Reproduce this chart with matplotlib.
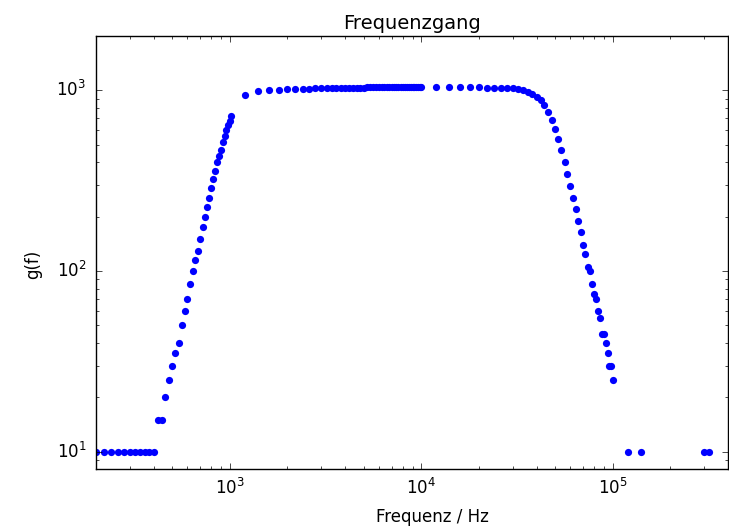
import matplotlib
matplotlib.use("Agg")
import matplotlib.pyplot as plt
import numpy as np

plt.style.use("classic")

# Frequencies (Hz)
freq_low = [200, 220, 240, 260, 280, 300, 320, 340, 360, 380, 400,
            420, 440, 460, 480, 500, 520, 540, 560, 580, 600, 620, 640,
            660, 680, 700, 720, 740, 760, 780, 800, 820, 840, 860, 880,
            900, 920, 940, 960, 980, 1000, 1020]
gain_low = [10, 10, 10, 10, 10, 10, 10, 10, 10, 10, 10,
            15, 15, 20, 25, 30, 35, 40, 50, 60, 70, 85, 100,
            115, 130, 150, 175, 200, 225, 255, 290, 325, 360, 400, 435,
            470, 520, 560, 600, 640, 680, 720]

freq_mid = [1200, 1400, 1600, 1800, 2000, 2200, 2400, 2600, 2800, 3000,
            3200, 3400, 3600, 3800, 4000, 4200, 4400, 4600, 4800, 5000,
            5200, 5400, 5600, 5800, 6000, 6200, 6400, 6600, 6800, 7000,
            7200, 7400, 7600, 7800, 8000, 8200, 8400, 8600, 8800, 9000,
            9200, 9400, 9600, 9800, 10000]
gain_mid = [940, 990, 1000, 1010, 1013, 1017, 1020, 1022, 1025, 1026,
            1027, 1028, 1030, 1030, 1032, 1033, 1034, 1035, 1036, 1037,
            1038, 1038, 1040, 1040, 1042, 1040, 1038, 1044, 1042, 1040,
            1043, 1040, 1045, 1042, 1040, 1044, 1042, 1040, 1043, 1042,
            1040, 1043, 1042, 1040, 1043]

freq_high = [12000, 14000, 16000, 18000, 20000, 22000, 24000, 26000, 28000,
             30000, 32000, 34000, 36000, 38000, 40000, 42000, 44000, 46000,
             48000, 50000, 52000, 54000, 56000, 58000, 60000, 62000, 64000,
             66000, 68000, 70000, 72000, 74000, 76000, 78000, 80000, 82000,
             84000, 86000, 88000, 90000, 92000, 94000, 96000, 98000, 100000,
             120000, 140000, 300000, 320000]
gain_high = [1040, 1040, 1040, 1040, 1038, 1035, 1030, 1035, 1030,
             1025, 1015, 1005, 985, 955, 925, 880, 825, 755,
             685, 610, 535, 465, 400, 345, 295, 255, 220,
             190, 165, 140, 125, 105, 100, 85, 75, 70,
             60, 55, 45, 45, 40, 35, 30, 30, 25,
             10, 10, 10, 10]

freq = freq_low + freq_mid + freq_high
gain = gain_low + gain_mid + gain_high

W, H = 729, 528
x0, x1, y0, y1 = 96, 728, 36, 469.3
fig = plt.figure(figsize=(W / 100, H / 100), dpi=100, facecolor="white")
ax = fig.add_axes([x0 / W, 1 - y1 / H, (x1 - x0) / W, (y1 - y0) / H])
ax.set_facecolor("white")
ax.plot(freq, gain, "o", color="b", markeredgecolor="b", markeredgewidth=0,
        markersize=5.2)
ax.set_xscale("log")
ax.set_yscale("log")
ax.set_xlim(200, 4e5)
ax.set_ylim(8, 2000)
ax.tick_params(axis="y", which="major", pad=7)
ax.tick_params(axis="x", which="major", pad=6)
ax.set_title("Frequenzgang", fontsize=14)
ax.set_xlabel("Frequenz / Hz", fontsize=12)
ax.set_ylabel("g(f)", fontsize=12)
# label positions in axes coordinates
ax.xaxis.set_label_coords((432 - x0) / (x1 - x0), -(517 - y1) / (y1 - y0),
                          transform=ax.transAxes)
ax.yaxis.set_label_coords(-(96 - 33) / (x1 - x0), (y1 - 264) / (y1 - y0),
                          transform=ax.transAxes)
ax.xaxis.label.set_va("center")
ax.yaxis.label.set_va("center")

fig.savefig("out.png", dpi=100, facecolor="white")
